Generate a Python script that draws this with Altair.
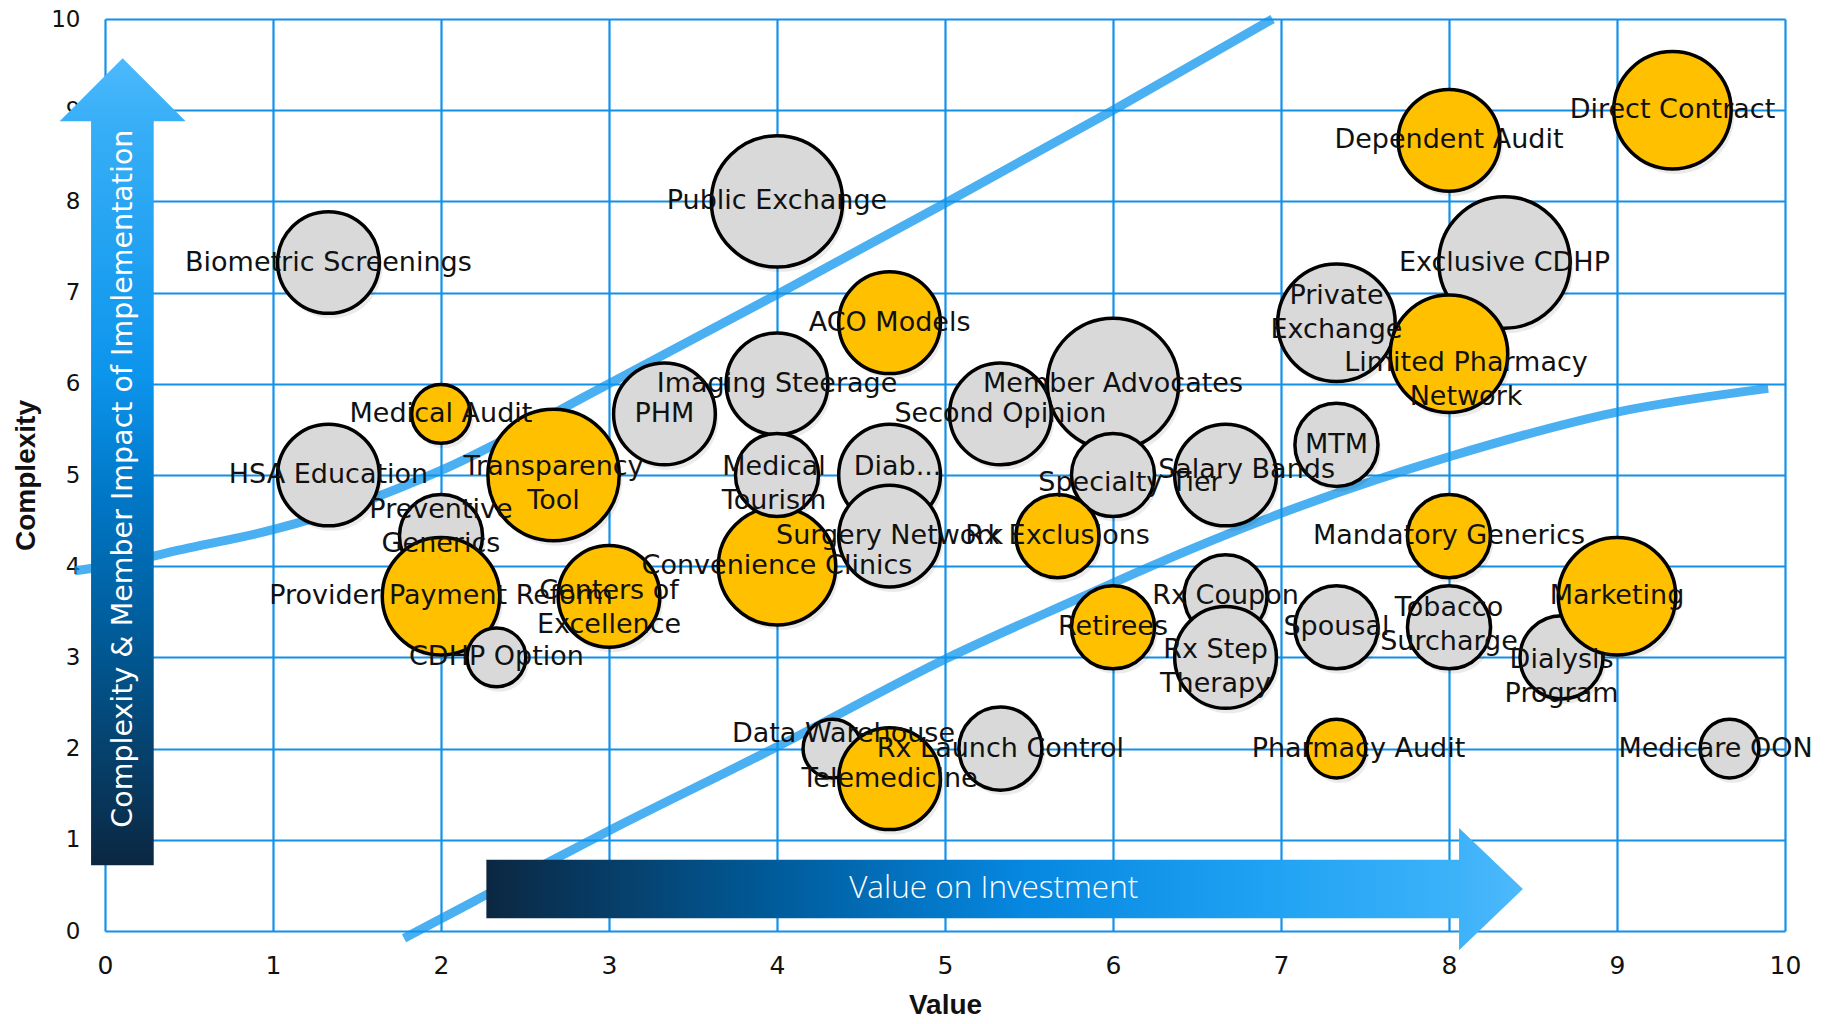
import altair as alt
import pandas as pd

# ---------------- bubble data ----------------
names = ["Biometric Screenings", "Public Exchange", "ACO Models", "Dependent Audit", "Direct Contract",
         "Exclusive CDHP", "Private\nExchange", "Limited Pharmacy\nNetwork", "Medical Audit", "HSA Education",
         "Transparency\nTool", "PHM", "Imaging Steerage", "Convenience Clinics", "Medical\nTourism", "Diab...",
         "Surgery Network", "Member Advocates", "Second Opinion", "Specialty Tier", "Salary Bands", "MTM",
         "Rx Exclusions", "Preventive\nGenerics", "Provider Payment Reform", "CDHP Option", "Centers of\nExcellence",
         "Data Warehouse", "Telemedicine", "Rx Launch Control", "Retirees", "Rx Coupon", "Rx Step\nTherapy",
         "Spousal", "Tobacco\nSurcharge", "Mandatory Generics", "Dialysis\nProgram", "Marketing",
         "Pharmacy Audit", "Medicare OON"]
value = [1.33, 4, 4.67, 8, 9.33,
         8.33, 7.33, 8, 2, 1.33,
         2.67, 3.33, 4, 4, 4, 4.67,
         4.67, 6, 5.33, 6, 6.67, 7.33,
         5.67, 2, 2, 2.33, 3,
         4.33, 4.67, 5.33, 6, 6.67, 6.67,
         7.33, 8, 8, 8.67, 9,
         7.33, 9.67]
complexity = [7.33, 8, 6.67, 8.67, 9,
              7.33, 6.67, 6.33, 5.67, 5,
              5, 5.67, 6, 4, 5, 5,
              4.33, 6, 5.67, 5, 5, 5.33,
              4.33, 4.33, 3.67, 3, 3.67,
              2, 1.67, 2, 3.33, 3.67, 3,
              3.33, 3.33, 4.33, 3, 3.67,
              2, 2]
impact = [3, 5, 3, 3, 4,
          5, 4, 4, 1, 3,
          5, 3, 3, 4, 2, 3,
          3, 5, 3, 2, 3, 2,
          2, 2, 4, 1, 3,
          1, 3, 2, 2, 2, 3,
          2, 2, 2, 2, 4,
          1, 1]
group = ["Other", "Other", "Priority", "Priority", "Priority",
         "Other", "Other", "Priority", "Priority", "Other",
         "Priority", "Other", "Other", "Priority", "Other", "Other",
         "Other", "Other", "Other", "Other", "Other", "Other",
         "Priority", "Other", "Priority", "Other", "Priority",
         "Other", "Priority", "Other", "Priority", "Other", "Other",
         "Other", "Other", "Priority", "Other", "Priority",
         "Priority", "Other"]

# label nudges in pixels (dx right, dy down) -- styling only
label_nudge = {
    "Private\nExchange": (0, -10), "Limited Pharmacy\nNetwork": (17, 26), "Transparency\nTool": (0, 9),
    "Medical\nTourism": (-3, 9), "Diab...": (8, -8), "Specialty Tier": (17, 8), "Salary Bands": (21, -5),
    "Preventive\nGenerics": (0, -9), "Centers of\nExcellence": (0, 12), "Data Warehouse": (11, -15),
    "Rx Step\nTherapy": (-10, 10), "Dialysis\nProgram": (0, 20), "Pharmacy Audit": (22, 0),
    "Medicare OON": (-14, 0), "Tobacco\nSurcharge": (0, -2),
}

# ---------------- guide curves ----------------
upper_x = [-0.18, 0, 0.5, 1, 1.5, 2, 3, 4, 5, 6, 6.95]
upper_y = [3.95, 4.0, 4.2, 4.4, 4.68, 5.05, 6.0, 6.98, 7.98, 9.0, 10.0]
lower_x = [1.78, 2.2, 3, 4, 5, 5.8, 6.2, 7, 8, 9, 9.9]
lower_y = [-0.08, 0.33, 1.1, 2.02, 2.98, 3.65, 3.98, 4.58, 5.2, 5.69, 5.95]

# ---------------- arrow annotations (data units) ----------------
h_shaft = dict(x=[2.27], x2=[8.07], y=[0.14], y2=[0.78])
h_head = dict(x=[8.06, 8.44], y=[-0.21, 0.46], y2=[1.13, 0.46])
v_shaft = dict(x=[-0.083], x2=[0.29], y=[0.72], y2=[8.89])
v_head = dict(y=[8.88, 9.57], x=[-0.27, 0.105], x2=[0.48, 0.105])
h_text = dict(x=[5.29], y=[0.46], t=["Value on Investment"])
v_text = dict(x=[0.105], y=[4.96], t=["Complexity & Member Impact of Implementation"])

W, H = 1680, 912
PX_X, PX_Y = W / 10.0, H / 10.0
GRID = "#1390EA"
FONT = "DejaVu Sans"
LINE_H = 34

df = pd.DataFrame({"name": names, "x": value, "y": complexity, "s": impact, "g": group})
df["order"] = range(len(df))


def nudge(n):
    dx, dy = label_nudge.get(n, (0, 0))
    lines_n = n.count("\n") + 1
    dy -= (lines_n - 1) * LINE_H / 2.0   # centre multi-line blocks
    return dx, dy


df["lx"] = [x + nudge(n)[0] / PX_X for n, x in zip(names, value)]
df["ly"] = [y - nudge(n)[1] / PX_Y for n, y in zip(names, complexity)]

curves = pd.concat([
    pd.DataFrame({"x": upper_x, "y": upper_y, "c": "upper"}),
    pd.DataFrame({"x": lower_x, "y": lower_y, "c": "lower"}),
])

xs = alt.Scale(domain=[0, 10], nice=False, zero=False)
ys = alt.Scale(domain=[0, 10], nice=False, zero=False)

x_axis = alt.Axis(values=list(range(11)), title="Value", grid=True, gridColor=GRID, gridWidth=2.2,
                  gridOpacity=1, domain=False, ticks=False, labelFont=FONT, labelFontSize=25,
                  labelColor="#111111", labelPadding=22, labelFlush=False, labelOverlap=False,
                  titleFont="Liberation Sans", titleFontSize=28, titleFontWeight="bold",
                  titleColor="#111111", titleX=W / 2, titleY=60, titleBaseline="top", titleAlign="center")
y_axis = alt.Axis(values=list(range(11)), title="Complexity", grid=True, gridColor=GRID, gridWidth=2.2,
                  gridOpacity=1, domain=False, ticks=False, labelFont=FONT, labelFontSize=23,
                  labelColor="#111111", labelPadding=25, labelFlush=False, labelOverlap=False,
                  titleFont="Liberation Sans", titleFontSize=28, titleFontWeight="bold",
                  titleColor="#111111", titleX=-79, titleY=H / 2, titleAngle=270,
                  titleBaseline="middle", titleAlign="center")

X = alt.X("x:Q", scale=xs, axis=x_axis)
Y = alt.Y("y:Q", scale=ys, axis=y_axis)

lines = alt.Chart(curves).mark_line(color="#0E95EE", opacity=0.75, strokeWidth=9,
                                    interpolate="monotone", strokeCap="butt").encode(
    x=X, y=Y, detail="c:N")

size_enc = alt.Size("s:Q", scale=alt.Scale(domain=[0, 5], range=[0, 17250]), legend=None)

shadow = alt.Chart(df).mark_circle(color="#000000", opacity=0.08, xOffset=3, yOffset=5).encode(
    x=X, y=Y, size=size_enc, order="order:Q")

bubbles = alt.Chart(df).mark_point(filled=True, shape="circle", stroke="black", strokeWidth=3.5,
                                   opacity=1, fillOpacity=1, strokeOpacity=1).encode(
    x=X, y=Y, size=size_enc,
    fill=alt.Fill("g:N", scale=alt.Scale(domain=["Other", "Priority"], range=["#D9D9D9", "#FFC000"]),
                  legend=None),
    order="order:Q")

labels = alt.Chart(df).mark_text(font=FONT, fontSize=27, color="#111111", lineBreak="\n",
                                 lineHeight=LINE_H, align="center", baseline="middle").encode(
    x=alt.X("lx:Q", scale=xs, axis=x_axis), y=alt.Y("ly:Q", scale=ys, axis=y_axis), text="name:N")


def grad(stops, x1, y1, x2, y2):
    return alt.LinearGradient(gradient="linear",
                              stops=[alt.GradientStop(color=c, offset=o) for o, c in stops],
                              x1=x1, y1=y1, x2=x2, y2=y2)


h_shaft_c = alt.Chart(pd.DataFrame(h_shaft)).mark_rect(
    fill=grad([(0, "#0B2741"), (0.3, "#005C9C"), (0.55, "#0687E0"), (0.8, "#1FA2F3"), (1, "#3DB2F9")],
              0, 0, 1, 0)).encode(x=X, x2="x2:Q", y=Y, y2="y2:Q")
h_head_c = alt.Chart(pd.DataFrame(h_head)).mark_area(
    fill=grad([(0, "#3EB2F9"), (1, "#4DB9FD")], 0, 0, 1, 0)).encode(x=X, y=Y, y2="y2:Q")

v_shaft_c = alt.Chart(pd.DataFrame(v_shaft)).mark_rect(
    fill=grad([(0, "#0B2741"), (0.3, "#005A96"), (0.5, "#0078C8"), (0.66, "#0C95EC"), (1, "#38AFF7")],
              0, 1, 0, 0)).encode(x=X, x2="x2:Q", y=Y, y2="y2:Q")
v_head_c = alt.Chart(pd.DataFrame(v_head)).mark_area(
    orient="horizontal", fill=grad([(0, "#38AFF7"), (1, "#4DB9FD")], 0, 1, 0, 0)).encode(
    y=Y, x=X, x2="x2:Q")

h_text_c = alt.Chart(pd.DataFrame(h_text)).mark_text(
    font="Open Sans", fontSize=31.5, fontWeight=300, color="white", align="center", baseline="middle").encode(
    x=X, y=Y, text="t:N")
v_text_c = alt.Chart(pd.DataFrame(v_text)).mark_text(
    font=FONT, fontSize=28.5, color="white", align="center", baseline="middle", angle=270).encode(
    x=X, y=Y, text="t:N")

chart = alt.layer(
    lines, shadow, bubbles, labels, h_shaft_c, h_head_c, v_shaft_c, v_head_c, h_text_c, v_text_c
).properties(
    width=W, height=H,
    padding={"left": 97, "top": 11, "right": 40, "bottom": 88},
    autosize=alt.AutoSizeParams(type="none"),
    background="white",
).configure_view(stroke=None)

chart.save("out.html", embed_options={"renderer": "svg", "actions": False})
